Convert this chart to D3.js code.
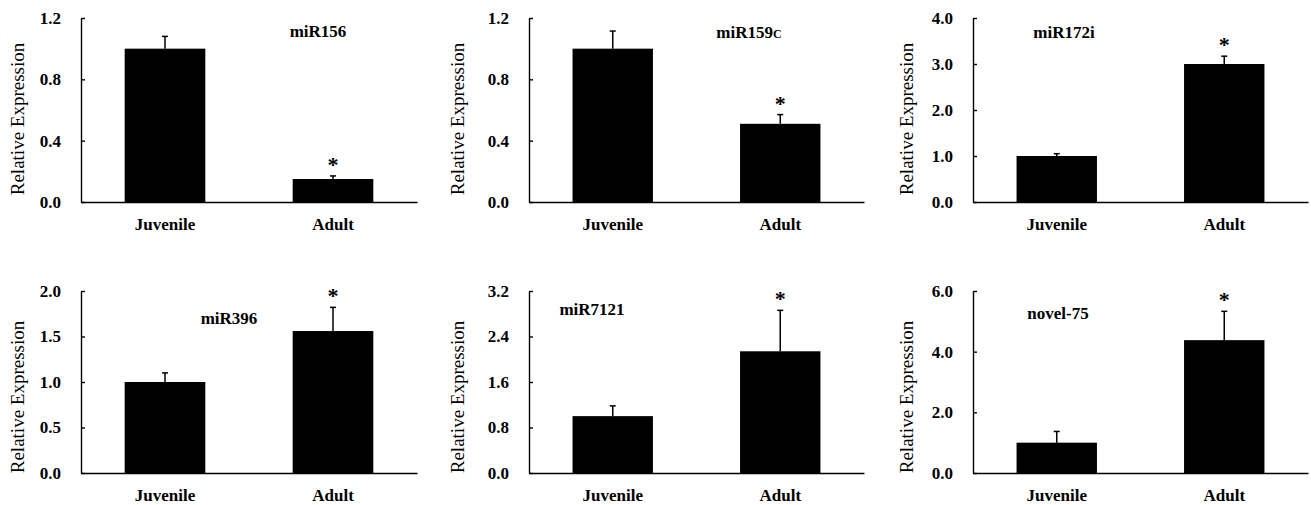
<!DOCTYPE html>
<html>
<head>
<meta charset="utf-8">
<script src="https://cdn.jsdelivr.net/npm/d3@7"></script>
<style>
  body { margin: 0; background: #fff; }
  svg text { font-family: "Liberation Serif", "Times New Roman", serif; }
</style>
</head>
<body>
<svg id="chart"></svg>
<script>
// data
let groups = ['Juvenile', 'Adult'];
let titles = ['miR156', 'miR159c', 'miR172i', 'miR396', 'miR7121', 'novel-75'];
let yMax = [1.2, 1.2, 4.0, 2.0, 3.2, 6.0];
let yStep = [0.4, 0.4, 1.0, 0.5, 0.8, 2.0];
let juvenileMean = [1.00, 1.00, 1.00, 1.00, 1.00, 1.00];
let juvenileErr = [0.08, 0.115, 0.05, 0.10, 0.18, 0.37];
let adultMean = [0.15, 0.51, 3.00, 1.56, 2.14, 4.38];
let adultErr = [0.02, 0.06, 0.17, 0.26, 0.72, 0.95];
let significant = [true, true, true, true, true, true]; // asterisk over Adult

// layout of the 2x3 grid (axis origin boxes)
let colLeft = [81, 529, 973];
let colRight = [417, 864, 1308];
let rowTop = [18, 291];
let rowBottom = [202, 473];
let labelX = [24, 464, 913];     // baseline of rotated y label
let labelY = [119, 397];
// title center/baseline relative to plot origin (left, top)
let titlePos = [[237, 19], [220, 20], [91, 20], [148, 33], [63, 24], [85, 28]];

let serif = '"Liberation Serif", "Times New Roman", serif';

let svg = d3.select('#chart').attr('width', 1311).attr('height', 505);

function translate(x, y) {
  return 'translate(' + x + ',' + y + ')';
}

titles.forEach(function(title, i) {
  let row = Math.floor(i / 3), col = i % 3;
  let x0 = colLeft[col], y0 = rowTop[row];
  let w = colRight[col] - x0, h = rowBottom[row] - y0;

  let yScale = d3.scaleLinear().domain([0, yMax[i]]).range([h, 0]);
  let xScale = d3.scaleBand().domain(groups).range([0, w])
    .paddingInner(0.52).paddingOuter(0.26);

  let rows = [
    { group: 'Juvenile', mean: juvenileMean[i], err: juvenileErr[i], star: false },
    { group: 'Adult', mean: adultMean[i], err: adultErr[i], star: significant[i] }
  ];

  let g = svg.append('g').attr('transform', translate(x0, y0));

  // bars
  g.selectAll('rect.bar').data(rows).enter().append('rect')
    .attr('class', 'bar')
    .attr('x', d => xScale(d.group))
    .attr('width', xScale.bandwidth())
    .attr('y', d => yScale(d.mean))
    .attr('height', d => h - yScale(d.mean))
    .attr('fill', '#000');

  // error bars (upper only)
  let eb = g.selectAll('g.err').data(rows).enter().append('g').attr('class', 'err')
    .attr('stroke', '#000').attr('stroke-width', 1.5);
  eb.append('line')
    .attr('x1', d => xScale(d.group) + xScale.bandwidth() / 2)
    .attr('x2', d => xScale(d.group) + xScale.bandwidth() / 2)
    .attr('y1', d => yScale(d.mean))
    .attr('y2', d => yScale(d.mean + d.err));
  eb.append('line')
    .attr('x1', d => xScale(d.group) + xScale.bandwidth() / 2 - 3)
    .attr('x2', d => xScale(d.group) + xScale.bandwidth() / 2 + 3)
    .attr('y1', d => yScale(d.mean + d.err))
    .attr('y2', d => yScale(d.mean + d.err));

  // asterisks
  g.selectAll('text.star').data(rows.filter(d => d.star)).enter().append('text')
    .attr('class', 'star')
    .attr('x', d => xScale(d.group) + xScale.bandwidth() / 2)
    .attr('y', d => yScale(d.mean + d.err) - 4)
    .attr('text-anchor', 'middle')
    .style('font-size', '22px')
    .style('font-weight', 'bold')
    .text('*');

  // y axis
  let ticks = d3.range(0, yMax[i] + yStep[i] / 2, yStep[i]);
  let yAxis = d3.axisLeft(yScale).tickValues(ticks).tickFormat(d3.format('.1f'))
    .tickSizeInner(-4).tickSizeOuter(0).tickPadding(20);
  let yGroup = g.append('g').call(yAxis).attr('font-family', serif);
  yGroup.select('.domain').attr('stroke-width', 1.4);
  yGroup.selectAll('.tick line').attr('stroke-width', 1.4);
  yGroup.selectAll('text').style('font-size', '17px').style('font-weight', 'bold');

  // x axis
  let xAxis = d3.axisBottom(xScale).tickSize(0).tickPadding(16);
  let xGroup = g.append('g').attr('transform', translate(0, h)).call(xAxis)
    .attr('font-family', serif);
  xGroup.select('.domain').attr('stroke-width', 1.4);
  xGroup.selectAll('text').style('font-size', '17px').style('font-weight', 'bold');

  // panel title
  let t = g.append('text')
    .attr('x', titlePos[i][0])
    .attr('y', titlePos[i][1])
    .attr('text-anchor', 'middle')
    .style('font-size', '17px')
    .style('font-weight', 'bold');
  if (title === 'miR159c') {
    t.append('tspan').text('miR159');
    t.append('tspan').style('font-variant', 'small-caps').text('c');
  } else {
    t.text(title);
  }

  // y axis label
  svg.append('text')
    .attr('transform', translate(labelX[col], labelY[row]) + ' rotate(-90)')
    .attr('text-anchor', 'middle')
    .style('font-size', '19px')
    .text('Relative Expression');
});
</script>
</body>
</html>
